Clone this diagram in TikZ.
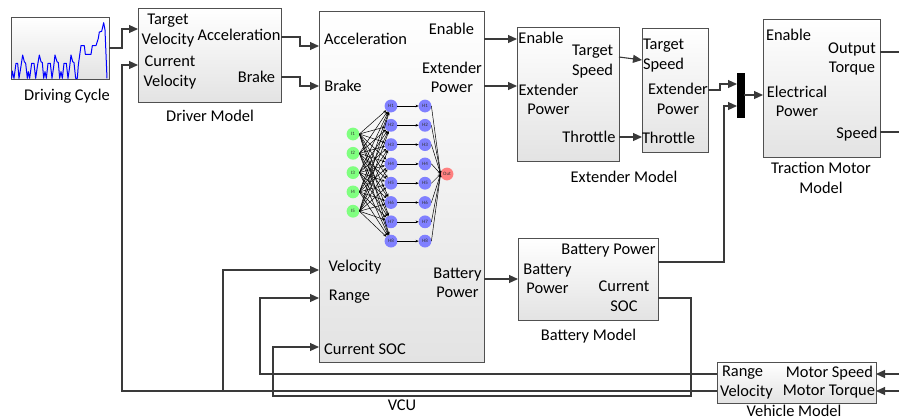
\documentclass[tikz,border=0pt]{standalone}
\usepackage{fontspec}
\setmainfont{Carlito}
\usetikzlibrary{arrows.meta}
\definecolor{ln}{HTML}{3A3A3A}
\definecolor{bd}{HTML}{505050}
\begin{document}
\begin{tikzpicture}[x=1pt,y=-1pt,
  every node/.style={font=\fontsize{16.4}{19.5}\selectfont, inner sep=0pt, outer sep=0pt},
  blk/.style={draw=bd, line width=1pt, top color=white, bottom color=black!11, anchor=north west},
  lbl/.style={text=black},
  arr/.style={draw=ln, line width=1.1pt, -{Triangle[length=9pt,width=8pt]}},
  wire/.style={draw=ln, line width=1.1pt},
  nnode/.style={circle, minimum size=12.8pt, inner sep=0pt, font=\fontsize{5}{5}\selectfont, text=black!80},
  nnarr/.style={draw=black, line width=0.5pt, -{Stealth[length=3pt,width=2.6pt]}},
  nnline/.style={draw=black, line width=0.5pt}]
\useasboundingbox (0,0) rectangle (899,416);

% ---------- blocks ----------
\node[blk, minimum width=98pt, minimum height=62pt] (dc) at (11,17) {};
\node[blk, minimum width=143pt, minimum height=94pt] (drv) at (138,8) {};
\node[blk, minimum width=165pt, minimum height=351pt] (vcu) at (319,11) {};
\node[blk, minimum width=102pt, minimum height=134pt] (ext) at (517,27) {};
\node[blk, minimum width=66pt, minimum height=124pt] (gen) at (642,28) {};
\node[draw=black, fill=black, anchor=north west, minimum width=7pt, minimum height=44pt] (mux) at (737,73) {};
\node[blk, minimum width=117pt, minimum height=138pt] (tm) at (763,19) {};
\node[blk, minimum width=140pt, minimum height=82pt] (bat) at (518,238) {};
\node[blk, minimum width=159pt, minimum height=41pt] (veh) at (717,362) {};

% ---------- driving cycle trace ----------
\begin{scope}[shift={(5,10)}, x=0.33333pt, y=-0.33333pt]
\draw[blue, line width=1pt, line join=round] plot coordinates {
(20,205)(22,183)(27,205)(33,160)(38,160)(42,205)(47,175)(53,135)(58,155)(62,160)(67,205)(70,185)(74,205)
(80,160)(87,160)(92,205)(97,170)(103,135)(108,155)(112,158)(116,205)(120,185)(124,205)(129,160)(136,160)
(141,205)(146,170)(150,135)(156,155)(160,158)(164,205)(168,185)(172,205)(177,160)(184,160)(189,205)
(194,170)(198,135)(203,155)(207,158)(212,205)(217,205)(220,165)(228,107)(238,107)(241,133)(258,133)
(262,107)(273,107)(280,85)(283,66)(290,64)(296,38)(300,60)(306,205)};
\end{scope}

% ---------- labels ----------
\node[lbl] (tdc) at (67,96) {Driving Cycle};
\node[lbl, align=center] (ttv) at (168,30.5) {Target\\Velocity};
\node[lbl] (tacc) at (239,35) {Acceleration};
\node[lbl, align=center] (tcv) at (170,72.5) {Current\\Velocity};
\node[lbl] (tbrk) at (256.5,77) {Brake};
\node[lbl] (tdrv) at (210,116) {Driver Model};

\node[lbl] (vacc) at (365.5,39) {Acceleration};
\node[lbl] (vbrk) at (343,86) {Brake};
\node[lbl] (ven) at (451.5,29) {Enable};
\node[lbl, align=center] (vep) at (452,77.5) {Extender\\Power};
\node[lbl] (vvel) at (355,267) {Velocity};
\node[lbl] (vrng) at (349.5,297) {Range};
\node[lbl] (vsoc) at (365,349) {Current SOC};
\node[lbl, align=center] (vbp) at (457.5,283) {Battery\\Power};
\node[lbl] (tvcu) at (402,405) {VCU};

\node[lbl] (een) at (541,38) {Enable};
\node[lbl, align=left, anchor=west] (ets) at (572,61.5) {Target\\Speed};
\node[lbl, align=center] (eep) at (548.5,99.5) {Extender\\Power};
\node[lbl] (eth) at (589,137) {Throttle};
\node[lbl] (text) at (624,177) {Extender Model};

\node[lbl, align=left, anchor=west] (gts) at (643,55.5) {Target\\Speed};
\node[lbl, align=center] (gep) at (678,99) {Extender\\Power};
\node[lbl, anchor=west] (gth) at (642,138) {Throttle};

\node[lbl] (men) at (788.5,35) {Enable};
\node[lbl, align=center] (mot) at (852,59) {Output\\Torque};
\node[lbl, align=center] (mep) at (797,101.5) {Electrical\\Power};
\node[lbl] (msp) at (857,134) {Speed};
\node[lbl, align=center] (ttm) at (821,178) {Traction Motor\\Model};

\node[lbl] (bbp1) at (608.5,251) {Battery Power};
\node[lbl, align=center] (bbp2) at (547.5,279) {Battery\\Power};
\node[lbl, align=center] (bsoc) at (624,296) {Current\\SOC};
\node[lbl] (tbat) at (588.5,336) {Battery Model};

\node[lbl, anchor=west] (hrng) at (722,373) {Range};
\node[lbl, anchor=west] (hvel) at (720,392) {Velocity};
\node[lbl, anchor=east] (hms) at (873,373) {Motor Speed};
\node[lbl, anchor=east] (hmt) at (875,392) {Motor Torque};
\node[lbl] (tveh) at (794,411) {Vehicle Model};

% ---------- neural network ----------
\foreach \k/\y in {1/134,2/153.3,3/172.6,4/191.9,5/211.2}
  \node[nnode, fill=green!50] (i\k) at (353,\y) {I\k};
\foreach \k/\y in {1/106,2/125.3,3/144.6,4/163.9,5/183.2,6/202.5,7/221.8,8/241.1} {
  \node[nnode, fill=blue!50] (a\k) at (391,\y) {H\k};
  \node[nnode, fill=blue!50] (b\k) at (425,\y) {H\k};
}
\node[nnode, fill=red!50] (out) at (447,174) {Out};
\foreach \i in {1,...,5}
  \foreach \j in {1,...,8}
    \draw[nnarr] (i\i.east) -- (a\j);
\foreach \j in {1,...,8} {
  \draw[nnarr] (a\j) -- (b\j);
  \draw[nnarr] (b\j.east) -- (out.west);
}

% ---------- connectors ----------
\coordinate (r1) at (899,52);
\coordinate (r2) at (899,132);
\coordinate (r3) at (899,374);
\coordinate (r4) at (899,391);

\draw[arr] (dc.east |- 0,48) -| (122,29) -- (drv.west |- 0,29);
\draw[arr] (veh.west |- 0,391) -| (122,65) -- (drv.west |- 0,65);
\draw[arr] (223,391) |- (vcu.west |- 0,270);
\draw[arr] (veh.west |- 0,374) -| (260,298) -- (vcu.west |- 0,298);
\draw[arr] (bat.east |- 0,298) -| (691,396) -| (273,347) -- (vcu.west |- 0,347);
\draw[arr] (drv.east |- 0,37) -| (300,46) -- (vcu.west |- 0,46);
\draw[arr] (drv.east |- 0,77) -| (300,86) -- (vcu.west |- 0,86);
\draw[arr] (vcu.east |- 0,39) -- (ext.west |- 0,39);
\draw[arr] (vcu.east |- 0,86) -- (ext.west |- 0,86);
\draw[arr] (vcu.east |- 0,279) -- (bat.west |- 0,279);
\draw[arr] (ext.east |- 0,57) -- (gen.west |- 0,60);
\draw[arr] (ext.east |- 0,137) -- (gen.west |- 0,137);
\draw[arr] (gen.east |- 0,90) -| (720,84) -- (mux.west |- 0,84);
\draw[arr] (bat.east |- 0,262) -| (724,106) -- (mux.west |- 0,106);
\draw[arr] (mux.east |- 0,95) -- (tm.west |- 0,95);
\draw[wire] (tm.east |- r1) -- (r1);
\draw[wire] (tm.east |- r2) -- (r2);
\draw[arr] (r3) -- (veh.east |- r3);
\draw[arr] (r4) -- (veh.east |- r4);
\end{tikzpicture}
\end{document}
